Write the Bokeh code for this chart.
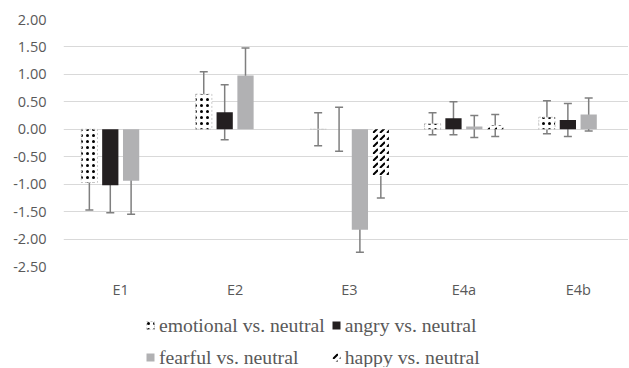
from bokeh.plotting import figure
from bokeh.layouts import column
from bokeh.models import (ColumnDataSource, Range1d, FixedTicker, NumeralTickFormatter,
                          Whisker, TeeHead, Legend, LegendItem)
from bokeh.embed import file_html
from bokeh.resources import INLINE

# ---- data ----
categories = ["E1", "E2", "E3", "E4a", "E4b"]
series = ["emotional vs. neutral", "angry vs. neutral", "fearful vs. neutral", "happy vs. neutral"]
emotional = [-0.97, 0.64, 0.00, 0.10, 0.22]
emotional_err = [0.50, 0.41, 0.30, 0.20, 0.30]
angry = [-1.02, 0.31, 0.00, 0.20, 0.17]
angry_err = [0.50, 0.50, 0.40, 0.30, 0.30]
fearful = [-0.94, 0.98, -1.83, 0.05, 0.27]
fearful_err = [0.61, 0.50, 0.41, 0.20, 0.30]
happy = [0.00, 0.00, -0.85, 0.07, 0.00]
happy_err = [None, None, 0.40, 0.20, None]
y_ticks = [-2.5, -2.0, -1.5, -1.0, -0.5, 0.0, 0.5, 1.0, 1.5, 2.0]

values = [emotional, angry, fearful, happy]
errors = [emotional_err, angry_err, fearful_err, happy_err]

# ---- styles ----
FONT = "Open Sans"
TXT = "#595959"
ERR = "#7f7f7f"
offsets = [-0.274, -0.091, 0.091, 0.274]
bar_w = 0.142
styles = [
    dict(fill_color="white", hatch_pattern=".", hatch_color="black", hatch_scale=6, hatch_weight=3,
         line_color="#c8c8c8", line_dash="2 2", line_width=1),
    dict(fill_color="#231f20", line_color=None),
    dict(fill_color="#b1b1b3", line_color=None),
    dict(fill_color="white", hatch_pattern=",", hatch_color="black", hatch_scale=7, hatch_weight=2,
         line_color=None),
]

p = figure(width=628, height=306, output_backend="svg", toolbar_location=None,
           x_range=Range1d(-0.5, 4.439), y_range=Range1d(-2.5, 2.0),
           min_border_left=63, min_border_right=0, min_border_top=19, min_border_bottom=40)
p.outline_line_color = None
p.background_fill_color = "white"
p.border_fill_color = "white"

p.xgrid.visible = False
p.ygrid.grid_line_color = "#d9d9d9"
p.ygrid.grid_line_width = 1

p.yaxis.ticker = FixedTicker(ticks=y_ticks)
p.yaxis.formatter = NumeralTickFormatter(format="0.00")
p.xaxis.ticker = FixedTicker(ticks=list(range(len(categories))))
p.xaxis.major_label_overrides = {i: c for i, c in enumerate(categories)}
for ax in (p.xaxis, p.yaxis):
    ax.axis_line_color = None
    ax.major_tick_line_color = None
    ax.minor_tick_line_color = None
    ax.major_tick_in = 0
    ax.major_tick_out = 0
    ax.major_label_text_font = FONT
    ax.major_label_text_font_size = "14.5px"
    ax.major_label_text_color = TXT
p.yaxis.major_label_standoff = 17
p.xaxis.major_label_standoff = 13

# legend panel (separate figure below the chart; its frame aligns with the chart's frame)
lp = figure(width=628, height=61, output_backend="svg", toolbar_location=None,
            x_axis_location=None, y_axis_location=None, min_border=0,
            x_range=Range1d(0, 1), y_range=Range1d(0, 1))
lp.outline_line_color = None
lp.xgrid.visible = False
lp.ygrid.visible = False

items = []
for j, (vals, errs) in enumerate(zip(values, errors)):
    xs = [i + offsets[j] for i in range(len(categories))]
    src = ColumnDataSource(dict(x=xs, top=vals))
    p.vbar(x="x", top="top", bottom=0, width=bar_w, source=src, **styles[j])
    # legend proxy: same style, placed outside the legend figure's visible range
    proxy = lp.vbar(x=[-10], top=[0], bottom=0, width=bar_w, **styles[j])
    items.append(LegendItem(label=series[j], renderers=[proxy]))
    ex = [x for x, e in zip(xs, errs) if e is not None]
    ev = [v for v, e in zip(vals, errs) if e is not None]
    ee = [e for e in errs if e is not None]
    esrc = ColumnDataSource(dict(base=ex, upper=[v + e for v, e in zip(ev, ee)],
                                 lower=[v - e for v, e in zip(ev, ee)]))
    w = Whisker(base="base", upper="upper", lower="lower", dimension="height", source=esrc,
                line_color=ERR, line_width=1.5,
                upper_head=TeeHead(size=8, line_color=ERR, line_width=1.5),
                lower_head=TeeHead(size=8, line_color=ERR, line_width=1.5))
    p.add_layout(w)

legend = Legend(items=items, orientation="horizontal", ncols=2, location=(82, -3),
                glyph_width=10, glyph_height=10, label_standoff=4, spacing=6,
                padding=0, margin=0, border_line_color=None, background_fill_alpha=0,
                label_text_font="Liberation Serif", label_text_font_size="19.7px",
                label_text_color=TXT, label_height=26)
lp.add_layout(legend, "center")

layout = column(p, lp, spacing=0)
open("out.html", "w").write(file_html(layout, INLINE))
